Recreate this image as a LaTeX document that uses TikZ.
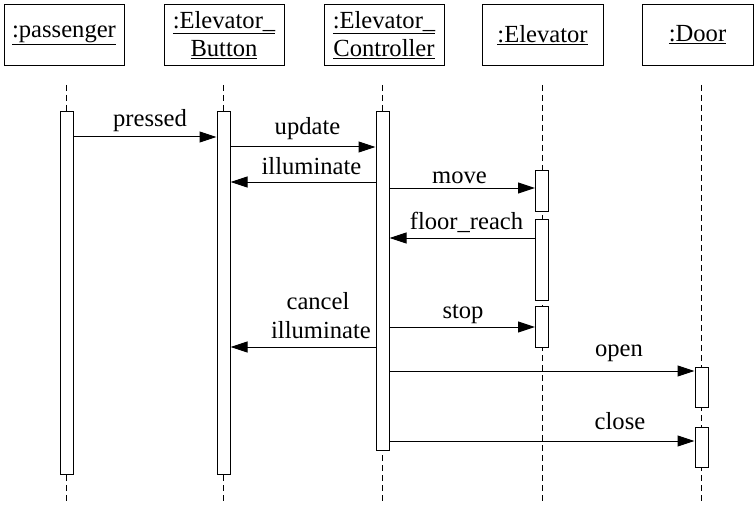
\documentclass[tikz,border=0pt]{standalone}
\usepackage{fontspec}
\setmainfont{Liberation Serif}
\usetikzlibrary{arrows.meta}
\begin{document}
\begin{tikzpicture}[x=1pt,y=-1pt,line width=1pt,
  txt/.style={font=\fontsize{24.6}{28}\selectfont},
  obj/.style={txt,draw,minimum height=61pt,align=center,inner sep=0pt},
  act/.style={draw,fill=white,minimum width=13pt,inner sep=0pt},
  life/.style={dash pattern=on 6pt off 4pt},
  msg/.style={-{Triangle[length=17pt,width=11pt]}},
  lbl/.style={txt,inner sep=0pt,anchor=base}]
\useasboundingbox (0,0) rectangle (754,505);

% object boxes
\node[obj,minimum width=120pt] (pas) at (64,35) {\underline{:passenger}};
\node[obj,minimum width=120pt] (btn) at (224,35) {\underline{:Elevator\_}\\\underline{Button}};
\node[obj,minimum width=120pt] (ctl) at (384,35) {\underline{:Elevator\_}\\\underline{Controller}};
\node[obj,minimum width=121pt] (elv) at (542.5,35) {\underline{:Elevator}};
\node[obj,minimum width=111pt] (dor) at (697.5,35) {\underline{:Door}};

% lifelines
\coordinate (lpT) at (66.5,85);  \coordinate (lpB) at (66.5,504);
\coordinate (lbT) at (223.5,85); \coordinate (lbB) at (223.5,504);
\coordinate (lcT) at (382.5,85); \coordinate (lcB) at (382.5,504);
\coordinate (leT) at (542,85);   \coordinate (leB) at (542,504);
\coordinate (ldT) at (701.5,85); \coordinate (ldB) at (701.5,504);
\draw[life] (lpT) -- (lpB);
\draw[life] (lbT) -- (lbB);
\draw[life] (lcT) -- (lcB);
\draw[life] (leT) -- (leB);
\draw[life] (ldT) -- (ldB);

% activation bars
\node[act,minimum height=362pt] (pa) at (66.5,293) {};
\node[act,minimum height=362pt] (ba) at (223.5,293) {};
\node[act,minimum height=338pt] (ca) at (382.5,281) {};
\node[act,minimum height=40pt] (e1) at (542,191) {};
\node[act,minimum height=81pt] (e2) at (542,259.5) {};
\node[act,minimum height=41pt] (e3) at (542,326.5) {};
\node[act,minimum height=40pt] (d1) at (701.5,387) {};
\node[act,minimum height=40pt] (d2) at (701.5,447) {};

% messages
\draw[msg] (pa.east |- 0,137) -- (ba.west |- 0,137);
\node[lbl] (m1) at (150,127) {pressed};
\draw[msg] (ba.east |- 0,147) -- (ca.west |- 0,147);
\node[lbl] (m2) at (307.5,135) {update};
\draw[msg] (ca.west |- 0,182) -- (ba.east |- 0,182);
\node[lbl] (m3) at (311.5,175) {illuminate};
\draw[msg] (ca.east |- 0,188) -- (e1.west |- 0,188);
\node[lbl] (m4) at (459.5,183) {move};
\draw[msg] (e2.west |- 0,238) -- (ca.east |- 0,238);
\node[lbl] (m5) at (466.5,229) {floor\_reach};
\draw[msg] (ca.east |- 0,327) -- (e3.west |- 0,327);
\node[lbl] (m6) at (463,318) {stop};
\draw[msg] (ca.west |- 0,347) -- (ba.east |- 0,347);
\node[lbl] (m7a) at (318,309) {cancel};
\node[lbl] (m7b) at (321,338) {illuminate};
\draw[msg] (ca.east |- 0,371) -- (d1.west |- 0,371);
\node[lbl] (m8) at (619,356) {open};
\draw[msg] (ca.east |- 0,441) -- (d2.west |- 0,441);
\node[lbl] (m9) at (620,429) {close};
\end{tikzpicture}
\end{document}
